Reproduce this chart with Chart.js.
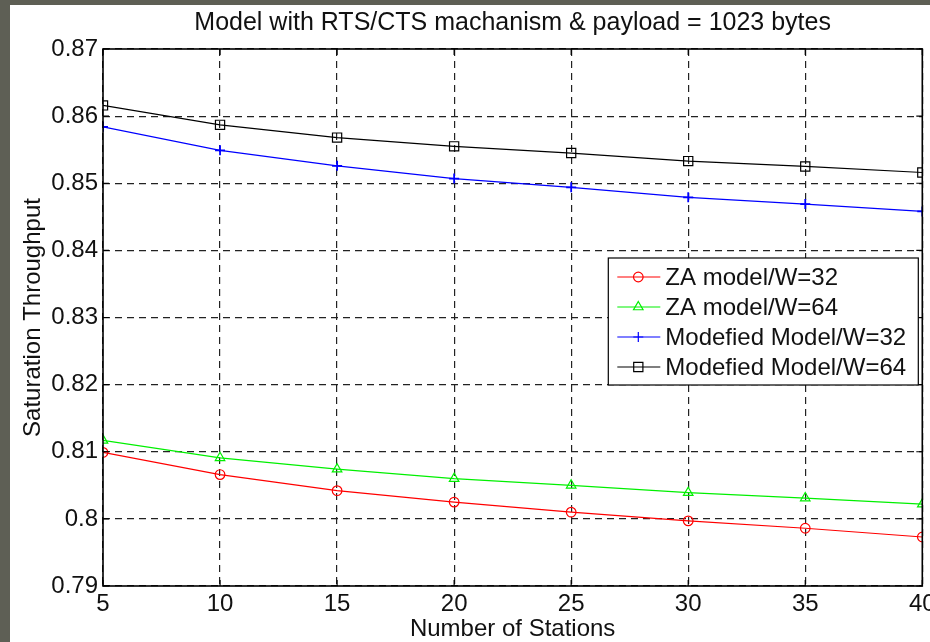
<!DOCTYPE html>
<html><head><meta charset="utf-8">
<script src="https://cdn.jsdelivr.net/npm/chart.js@4"></script>
<style>
html,body{margin:0;padding:0;background:#5e5f55;width:930px;height:642px;overflow:hidden}
#wrap{position:absolute;left:10px;top:5px;width:920px;height:637px;background:#fff}
</style></head><body>
<div id="wrap"><canvas id="c"></canvas></div>
<script>
const stations = [5, 10, 15, 20, 25, 30, 35, 40];
const zaW32 = [0.8099, 0.8066, 0.8042, 0.8025, 0.8010, 0.7997, 0.7986, 0.7973];
const zaW64 = [0.8117, 0.8091, 0.8074, 0.8060, 0.8050, 0.8039, 0.8031, 0.8022];
const modW32 = [0.8584, 0.8549, 0.8526, 0.8507, 0.8494, 0.8479, 0.8469, 0.8458];
const modW64 = [0.8616, 0.8587, 0.8568, 0.8555, 0.8545, 0.8533, 0.8525, 0.8516];
const seriesLabels = ['ZA model/W=32', 'ZA model/W=64', 'Modefied Model/W=32', 'Modefied Model/W=64'];
const xTickLabels = ['5', '10', '15', '20', '25', '30', '35', '40'];
const yTickLabels = ['0.79', '0.8', '0.81', '0.82', '0.83', '0.84', '0.85', '0.86', '0.87'];
const titleText = 'Model with RTS/CTS machanism & payload = 1023 bytes';
const xTitle = 'Number of Stations';
const yTitle = 'Saturation Throughput';

const FONT = "'Liberation Sans', Arial, Helvetica, sans-serif";
const TXT = '#111';

function pts(arr) { return stations.map((s, i) => ({x: s, y: arr[i]})); }

const styles = [
  {color: '#ff0000', pointStyle: 'circle', radius: 4.8},
  {color: '#00f000', pointStyle: 'triangle', radius: 5.5},
  {color: '#0000ff', pointStyle: 'cross', radius: 5},
  {color: '#000000', pointStyle: 'rect', radius: 6.5}
];
const seriesData = [zaW32, zaW64, modW32, modW64];

const datasets = seriesData.map((arr, i) => ({
  label: seriesLabels[i],
  data: pts(arr),
  borderColor: styles[i].color,
  backgroundColor: 'rgba(0,0,0,0)',
  borderWidth: 1.2,
  pointStyle: styles[i].pointStyle,
  pointRadius: styles[i].radius,
  pointBorderColor: styles[i].color,
  pointBackgroundColor: 'rgba(0,0,0,0)',
  pointBorderWidth: i === 2 ? 1.8 : 1.2,
  tension: 0,
  fill: false
}));

const framePlugin = {
  id: 'frame',
  beforeDraw(chart) {
    const {ctx} = chart;
    ctx.save();
    ctx.fillStyle = '#fff';
    ctx.fillRect(0, 0, chart.width, chart.height);
    ctx.restore();
  },
  afterDatasetsDraw(chart) {
    const {ctx, chartArea: a, scales} = chart;
    ctx.save();
    // inward tick marks
    ctx.strokeStyle = '#000';
    ctx.lineWidth = 1.2;
    ctx.beginPath();
    scales.x.ticks.forEach(t => {
      const px = scales.x.getPixelForValue(t.value);
      ctx.moveTo(px, a.bottom); ctx.lineTo(px, a.bottom - 6);
      ctx.moveTo(px, a.top); ctx.lineTo(px, a.top + 6);
    });
    scales.y.ticks.forEach(t => {
      const py = scales.y.getPixelForValue(t.value);
      ctx.moveTo(a.left, py); ctx.lineTo(a.left + 6, py);
      ctx.moveTo(a.right, py); ctx.lineTo(a.right - 6, py);
    });
    ctx.stroke();
    ctx.lineWidth = 1.6;
    ctx.strokeRect(a.left, a.top, a.right - a.left, a.bottom - a.top);
    // title
    ctx.fillStyle = TXT;
    ctx.font = '25px ' + FONT;
    ctx.textAlign = 'center';
    ctx.textBaseline = 'middle';
    ctx.fillText(titleText, (a.left + a.right) / 2, 18);
    // legend
    const bx = a.right - 314, by = a.top + 209, bw = 310, bh = 127;
    ctx.fillStyle = '#fff';
    ctx.fillRect(bx, by, bw, bh);
    ctx.strokeStyle = '#000';
    ctx.lineWidth = 1.2;
    ctx.strokeRect(bx, by, bw, bh);
    ctx.font = '24px ' + FONT;
    ctx.textAlign = 'left';
    chart.data.datasets.forEach((ds, i) => {
      const y = by + 19 + i * 30;
      ctx.strokeStyle = ds.borderColor;
      ctx.lineWidth = 1.2;
      ctx.beginPath();
      ctx.moveTo(bx + 9, y); ctx.lineTo(bx + 52, y);
      ctx.stroke();
      ctx.fillStyle = 'rgba(0,0,0,0)';
      Chart.helpers.drawPoint(ctx, {pointStyle: ds.pointStyle, radius: ds.pointRadius, borderWidth: ds.pointBorderWidth, rotation: 0}, bx + 30, y);
      ctx.fillStyle = TXT;
      ctx.fillText(ds.label, bx + 57, y + 1);
    });
    ctx.restore();
  }
};

new Chart(document.getElementById('c'), {
  type: 'line',
  data: {datasets},
  plugins: [framePlugin],
  options: {
    responsive: true,
    maintainAspectRatio: false,
    animation: false,
    layout: {padding: {top: 44, right: 5, bottom: 0, left: 0}},
    plugins: {legend: {display: false}, tooltip: {enabled: false}, title: {display: false}},
    scales: {
      x: {
        type: 'linear', min: 5, max: 40,
        afterFit(s) { s.height = 56; s.paddingLeft = 0; s.paddingRight = 0; },
        afterBuildTicks(s) { s.ticks = stations.map(v => ({value: v})); },
        ticks: {
          padding: 4, color: TXT, font: {family: FONT, size: 24}, maxRotation: 0, autoSkip: false,
          callback: (v, i) => xTickLabels[i]
        },
        grid: {color: '#222', lineWidth: 1.2, drawTicks: false},
        border: {display: false, dash: [7, 5]},
        title: {display: true, text: xTitle, color: TXT, font: {family: FONT, size: 24}, padding: {top: 0, bottom: -2}}
      },
      y: {
        type: 'linear', min: 0.79, max: 0.87,
        afterFit(s) { s.width = 93; s.paddingTop = 0; s.paddingBottom = 0; },
        afterBuildTicks(s) { s.ticks = yTickLabels.map(l => ({value: parseFloat(l)})); },
        ticks: {
          padding: 5, color: TXT, font: {family: FONT, size: 24}, autoSkip: false,
          callback: (v, i) => yTickLabels[i]
        },
        grid: {color: '#222', lineWidth: 1.2, drawTicks: false},
        border: {display: false, dash: [7, 5]},
        title: {display: true, text: yTitle, color: TXT, font: {family: FONT, size: 24}, padding: {top: 9, bottom: 0}}
      }
    }
  }
});
</script>
</body></html>
